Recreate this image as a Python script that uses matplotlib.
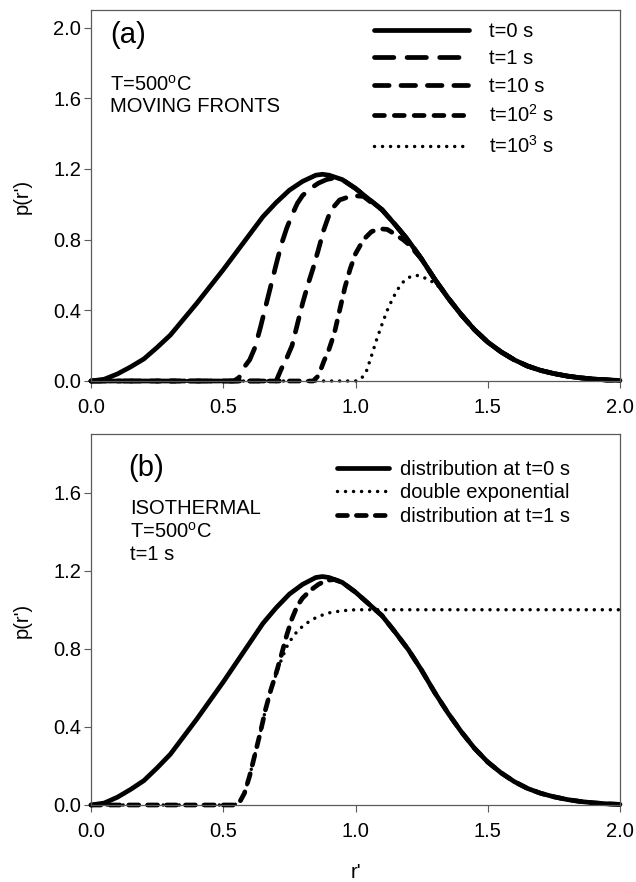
import matplotlib
matplotlib.use("Agg")
import matplotlib.pyplot as plt
from matplotlib.ticker import FormatStrFormatter

plt.rcParams["font.family"] = ["Liberation Sans", "DejaVu Sans"]
plt.rcParams["mathtext.fontset"] = "custom"
plt.rcParams["mathtext.rm"] = "Liberation Sans"
plt.rcParams["mathtext.it"] = "Liberation Sans:italic"

# ---- data ----
# initial distribution (t = 0 s), same curve in both panels
x_t0 = [0.0, 0.05, 0.10, 0.15, 0.20, 0.25, 0.30, 0.35, 0.40, 0.45, 0.50, 0.55,
        0.60, 0.65, 0.70, 0.75, 0.80, 0.85, 0.875, 0.90, 0.95, 1.00, 1.05, 1.10,
        1.15, 1.20, 1.25, 1.30, 1.35, 1.40, 1.45, 1.50, 1.55, 1.60, 1.65, 1.70,
        1.75, 1.80, 1.85, 1.90, 1.95, 2.0]
y_t0 = [0.0, 0.01, 0.04, 0.08, 0.125, 0.19, 0.26, 0.35, 0.44, 0.535, 0.63, 0.73,
        0.83, 0.93, 1.01, 1.08, 1.13, 1.165, 1.17, 1.165, 1.14, 1.09, 1.03, 0.97,
        0.885, 0.795, 0.69, 0.575, 0.47, 0.375, 0.29, 0.22, 0.165, 0.12, 0.085, 0.06,
        0.042, 0.028, 0.018, 0.011, 0.006, 0.003]

# panel (a): moving fronts (rising part; above the join they follow t=0)
x_t1 = [0.0, 0.54, 0.56, 0.58, 0.60, 0.62, 0.64, 0.66, 0.68, 0.70, 0.72, 0.74,
        0.76, 0.78, 0.80, 0.83, 0.86, 0.89, 0.92, 0.95]
y_t1 = [0.0, 0.0, 0.02, 0.08, 0.12, 0.19, 0.30, 0.42, 0.54, 0.66, 0.775, 0.865,
        0.94, 1.005, 1.05, 1.09, 1.12, 1.14, 1.15, 1.14]

x_t10 = [0.0, 0.70, 0.72, 0.74, 0.76, 0.78, 0.80, 0.82, 0.84, 0.86, 0.88, 0.90,
         0.92, 0.94, 0.97, 1.00, 1.03, 1.06, 1.10]
y_t10 = [0.0, 0.0, 0.07, 0.13, 0.20, 0.32, 0.44, 0.545, 0.64, 0.745, 0.855, 0.94,
         0.99, 1.025, 1.04, 1.048, 1.045, 1.01, 0.97]

x_t100 = [0.0, 0.84, 0.86, 0.88, 0.90, 0.92, 0.94, 0.96, 0.98, 1.00, 1.03, 1.06,
          1.09, 1.12, 1.15, 1.18, 1.20]
y_t100 = [0.0, 0.0, 0.03, 0.11, 0.18, 0.27, 0.40, 0.53, 0.635, 0.72, 0.80, 0.845,
          0.862, 0.858, 0.83, 0.80, 0.775]

x_t1000 = [0.0, 1.00, 1.02, 1.04, 1.06, 1.08, 1.10, 1.12, 1.14, 1.16, 1.18, 1.20,
           1.22, 1.24, 1.26, 1.28, 1.30]
y_t1000 = [0.0, 0.0, 0.01, 0.05, 0.14, 0.235, 0.32, 0.40, 0.465, 0.52, 0.56, 0.585,
           0.597, 0.597, 0.585, 0.565, 0.56]

# panel (b): isothermal
x_iso1 = [0.0, 0.537, 0.56, 0.58, 0.60, 0.62, 0.64, 0.66, 0.68, 0.70, 0.72, 0.74,
          0.76, 0.78, 0.80, 0.83, 0.86, 0.89, 0.92, 0.95]
y_iso1 = [0.0, 0.0, 0.01, 0.06, 0.15, 0.26, 0.37, 0.49, 0.59, 0.675, 0.77, 0.87,
          0.955, 1.02, 1.06, 1.10, 1.13, 1.15, 1.155, 1.14]

x_dexp = [0.0, 0.537, 0.56, 0.58, 0.60, 0.62, 0.64, 0.66, 0.68, 0.70, 0.72, 0.74,
          0.76, 0.78, 0.80, 0.83, 0.86, 0.90, 0.95, 1.0, 1.5, 2.0]
y_dexp = [0.0, 0.0, 0.01, 0.06, 0.15, 0.26, 0.37, 0.49, 0.59, 0.67, 0.745, 0.81,
          0.855, 0.89, 0.915, 0.945, 0.966, 0.984, 0.995, 1.0, 1.0, 1.0]

labels_a = ["t=0 s", "t=1 s", "t=10 s", "t=10$^2$ s", "t=10$^3$ s"]
labels_b = ["distribution at t=0 s", "double exponential", "distribution at t=1 s"]

FS = 14.5
SPINE = "#5a5a5a"
W, H = 636, 882


def join_t0(xs, ys):
    # past the point where a front meets the initial curve, it runs on t=0
    tail = [i for i, x in enumerate(x_t0) if x > xs[-1] + 1e-9]
    return xs + [x_t0[i] for i in tail], ys + [y_t0[i] for i in tail]


def style_axes(ax, ymax, yticks):
    ax.set_xlim(0, 2.0)
    ax.set_ylim(0, ymax)
    ax.set_xticks([0.0, 0.5, 1.0, 1.5, 2.0])
    ax.set_yticks(yticks)
    ax.xaxis.set_major_formatter(FormatStrFormatter("%.1f"))
    ax.yaxis.set_major_formatter(FormatStrFormatter("%.1f"))
    ax.tick_params(direction="out", length=5, width=0.8, color=SPINE,
                   labelsize=FS, top=False, right=False)
    ax.tick_params(axis="x", pad=7)
    ax.tick_params(axis="y", pad=2)
    for s in ax.spines.values():
        s.set_color(SPINE)
        s.set_linewidth(0.9)


fig = plt.figure(figsize=(W / 100, H / 100), dpi=100)
ax_a = fig.add_axes([91 / W, 1 - 381 / H, 529 / W, 371 / H])
ax_b = fig.add_axes([91 / W, 1 - 805 / H, 529 / W, 371 / H])

lw = 3.4
common = dict(color="black", clip_on=False, solid_capstyle="round",
              dash_capstyle="round", solid_joinstyle="round")

ax_a.plot(x_t0, y_t0, lw=lw, label=labels_a[0], **common)
ax_a.plot(*join_t0(x_t1, y_t1), lw=lw, dashes=(4.1, 2.8), label=labels_a[1], **common)
ax_a.plot(*join_t0(x_t10, y_t10), lw=lw, dashes=(3.1, 2.5), label=labels_a[2], **common)
ax_a.plot(*join_t0(x_t100, y_t100), lw=lw, dashes=(2.1, 2.1), label=labels_a[3], **common)
ax_a.plot(*join_t0(x_t1000, y_t1000), lw=2.5, dashes=(0.01, 2.3), label=labels_a[4], **common)
style_axes(ax_a, 2.1, [0.0, 0.4, 0.8, 1.2, 1.6, 2.0])

ax_a.legend(loc="upper left", bbox_to_anchor=((374 - 91) / 529, (381 - 22) / 371),
            frameon=False, fontsize=FS, handlelength=4.7, handletextpad=1.0,
            labelspacing=0.42, borderpad=0, borderaxespad=0)
ax_a.text((110 - 91) / 529, (381 - 35) / 371, "(a)", transform=ax_a.transAxes,
          fontsize=21, va="center", ha="left")
ax_a.text((110 - 91) / 529, (381 - 85) / 371, "T=500$^{\\rm o}$C", transform=ax_a.transAxes,
          fontsize=FS, va="center", ha="left")
ax_a.text((110 - 91) / 529, (381 - 107) / 371, "MOVING FRONTS", transform=ax_a.transAxes,
          fontsize=FS, va="center", ha="left")

ax_b.plot(x_t0, y_t0, lw=lw, label=labels_b[0], **common)
ax_b.plot(x_dexp, y_dexp, lw=2.5, dashes=(0.01, 2.3), label=labels_b[1], **common)
ax_b.plot(*join_t0(x_iso1, y_iso1), lw=lw, dashes=(2.1, 1.9), label=labels_b[2], **common)
style_axes(ax_b, 1.9, [0.0, 0.4, 0.8, 1.2, 1.6])

ax_b.legend(loc="upper left", bbox_to_anchor=((337 - 91) / 529, (805 - 460) / 371),
            frameon=False, fontsize=FS, handlelength=2.6, handletextpad=0.55,
            labelspacing=0.22, borderpad=0, borderaxespad=0)
ax_b.text((128 - 91) / 529, (805 - 468) / 371, "(b)", transform=ax_b.transAxes,
          fontsize=21, va="center", ha="left")
ax_b.text((130 - 91) / 529, (805 - 508) / 371, "ISOTHERMAL", transform=ax_b.transAxes,
          fontsize=FS, va="center", ha="left")
ax_b.text((130 - 91) / 529, (805 - 532) / 371, "T=500$^{\\rm o}$C", transform=ax_b.transAxes,
          fontsize=FS, va="center", ha="left")
ax_b.text((130 - 91) / 529, (805 - 555) / 371, "t=1 s", transform=ax_b.transAxes,
          fontsize=FS, va="center", ha="left")

fig.text(22 / W, 1 - 196 / H, "p(r')", rotation=90, fontsize=FS, va="center", ha="center")
fig.text(22 / W, 1 - 620 / H, "p(r')", rotation=90, fontsize=FS, va="center", ha="center")
fig.text(355.5 / W, 1 - 872 / H, "r'", fontsize=FS, va="center", ha="center")

fig.savefig("out.png", dpi=100)
